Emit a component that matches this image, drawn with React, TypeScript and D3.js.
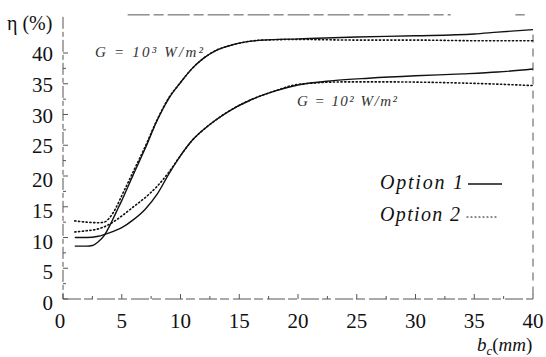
import * as d3 from "d3";

// efficiency curves: [b_c (mm), eta (%)]
const g3Option1: [number, number][] = [
  [1, 8.6], [2, 8.6], [2.5, 8.7], [3, 9.3], [3.5, 10.3], [4, 12], [4.5, 14], [5, 16],
  [6, 20.3], [7, 24.5], [8, 29], [9, 32.6], [10, 35.2], [11, 37.5], [12, 39.2],
  [13, 40.4], [14, 41.1], [15, 41.6], [17, 42.1], [20, 42.3], [25, 42.6], [30, 42.8],
  [35, 43.1], [37, 43.4], [40, 43.8],
];
const g3Option2: [number, number][] = [
  [1, 12.7], [2, 12.5], [3, 12.4], [3.5, 12.5], [4, 13.3], [4.5, 14.8], [5, 16.8],
  [6, 20.8], [7, 24.8], [8, 29.1], [9, 32.7], [10, 35.2], [11, 37.5], [12, 39.2],
  [13, 40.4], [14, 41.1], [15, 41.6], [17, 42.1], [20, 42.2], [25, 42.1], [30, 42.1],
  [35, 42.0], [40, 42.0],
];
const g2Option1: [number, number][] = [
  [1, 10.0], [2, 10.0], [3, 10.2], [4, 10.8], [5, 11.6], [6, 12.9], [7, 14.6], [8, 17],
  [9, 20.3], [10, 23.3], [11, 25.8], [12, 27.6], [13, 29.1], [14, 30.4], [16, 32.4],
  [18, 33.8], [20, 34.8], [23, 35.5], [26, 35.9], [30, 36.3], [34, 36.6], [37, 36.9],
  [40, 37.4],
];
const g2Option2: [number, number][] = [
  [1, 10.9], [2, 11.1], [3, 11.4], [4, 12.2], [5, 13.5], [6, 15], [7, 16.5], [8, 18.3],
  [9, 20.6], [10, 23.3], [11, 25.8], [12, 27.6], [13, 29.1], [14, 30.4], [16, 32.4],
  [18, 33.8], [20, 34.9], [24, 35.3], [28, 35.3], [32, 35.2], [36, 35.0], [40, 34.7],
];

const xTicks = [0, 5, 10, 15, 20, 25, 30, 35, 40];
const yTicks = [0, 5, 10, 15, 20, 25, 30, 35, 40];
const minorTicks = d3.range(0, 40.1, 2.5);

const width = 546;
const height = 357;

const fam = "Times New Roman";
const famStyle = { fontFamily: `"${fam}"` };

export default function App() {
  const x = d3.scaleLinear().domain([0, 40]).range([63, 533]);
  const y = d3.scaleLinear().domain([0, 40]).range([299, 53]);
  const yTop = y(46.2);

  const line = d3.line<[number, number]>()
    .x(d => x(d[0]))
    .y(d => y(d[1]))
    .curve(d3.curveMonotoneX);

  const frame = "#555";

  return (
    <svg width={width} height={height} fontFamily={fam} style={{ position: "absolute", left: 0, top: 0, background: "#fff" }}>
      {/* frame, broken like the scan */}
      <line x1={x(0)} x2={x(0)} y1={yTop + 2} y2={y(0)} stroke={frame} strokeWidth={1} strokeDasharray="12 3 5 3" />
      <line x1={x(0)} x2={x(40)} y1={y(0)} y2={y(0)} stroke={frame} strokeWidth={1} strokeDasharray="18 3 9 4" />
      <line x1={x(5.5)} x2={x(33)} y1={yTop} y2={yTop} stroke={frame} strokeWidth={1} strokeDasharray="22 4 10 4" />
      <line x1={x(38.5)} x2={x(39.3)} y1={yTop} y2={yTop} stroke={frame} strokeWidth={1} />
      <line x1={x(40)} x2={x(40)} y1={y(43)} y2={y(0)} stroke={frame} strokeWidth={1} strokeDasharray="8 6" />

      {minorTicks.map(t => (
        <line key={"xt" + t} x1={x(t)} x2={x(t)} y1={y(0)} y2={y(0) - (t % 5 === 0 ? 5 : 3)} stroke={frame} />
      ))}
      {minorTicks.map(t => (
        <line key={"yt" + t} x1={x(0)} x2={x(0) + (t % 5 === 0 ? 5 : 3)} y1={y(t)} y2={y(t)} stroke={frame} />
      ))}

      {xTicks.map(t => (
        <text key={"xl" + t} x={x(t) - (t === 0 ? 3 : 0)} y={328} textAnchor="middle"
          fontSize={21} fill="#111" fontFamily={fam} style={famStyle}>{t}</text>
      ))}
      {yTicks.map(t => (
        <text key={"yl" + t} x={53} y={y(t) + (t <= 20 ? 11 : 8)} textAnchor="end"
          fontSize={21} fill="#111" fontFamily={fam} style={famStyle}>{t}</text>
      ))}

      <text x={7} y={30} fontSize={20} fill="#111" fontFamily={fam} style={famStyle}>η (%)</text>
      <text x={477} y={351} fontSize={19} fill="#111" fontFamily={fam} style={famStyle}>
        <tspan fontStyle="italic">b</tspan>
        <tspan fontStyle="italic" fontSize={13} dy={4}>c</tspan>
        <tspan dy={-4}>(</tspan>
        <tspan fontStyle="italic">mm</tspan>
        <tspan>)</tspan>
      </text>

      {/* curves */}
      <path d={line(g3Option1) ?? ""} fill="none" stroke="#111" strokeWidth={1.4} />
      <path d={line(g2Option1) ?? ""} fill="none" stroke="#111" strokeWidth={1.4} />
      <path d={line(g3Option2) ?? ""} fill="none" stroke="#111" strokeWidth={1.6}
        strokeDasharray="1.2 2.6" strokeLinecap="round" />
      <path d={line(g2Option2) ?? ""} fill="none" stroke="#111" strokeWidth={1.6}
        strokeDasharray="1.2 2.6" strokeLinecap="round" />

      {/* annotations */}
      <text x={95} y={57} fontSize={15} fontStyle="italic" fill="#333" fontFamily={fam} style={famStyle}
        textLength={108} lengthAdjust="spacing">G = 10³ W/m²</text>
      <text x={297} y={106} fontSize={15} fontStyle="italic" fill="#333" fontFamily={fam} style={famStyle}
        textLength={100} lengthAdjust="spacing">G = 10² W/m²</text>

      {/* legend */}
      <text x={380} y={189} fontSize={20} fontStyle="italic" fill="#111" fontFamily={fam} style={famStyle}
        textLength={83} lengthAdjust="spacing">Option 1</text>
      <line x1={468} x2={502} y1={184} y2={184} stroke="#111" strokeWidth={1.3} />
      <text x={380} y={221} fontSize={20} fontStyle="italic" fill="#111" fontFamily={fam} style={famStyle}
        textLength={80} lengthAdjust="spacing">Option 2</text>
      <line x1={467} x2={498} y1={217} y2={217} stroke="#111" strokeWidth={1.2}
        strokeDasharray="1 3" strokeLinecap="round" />
    </svg>
  );
}
